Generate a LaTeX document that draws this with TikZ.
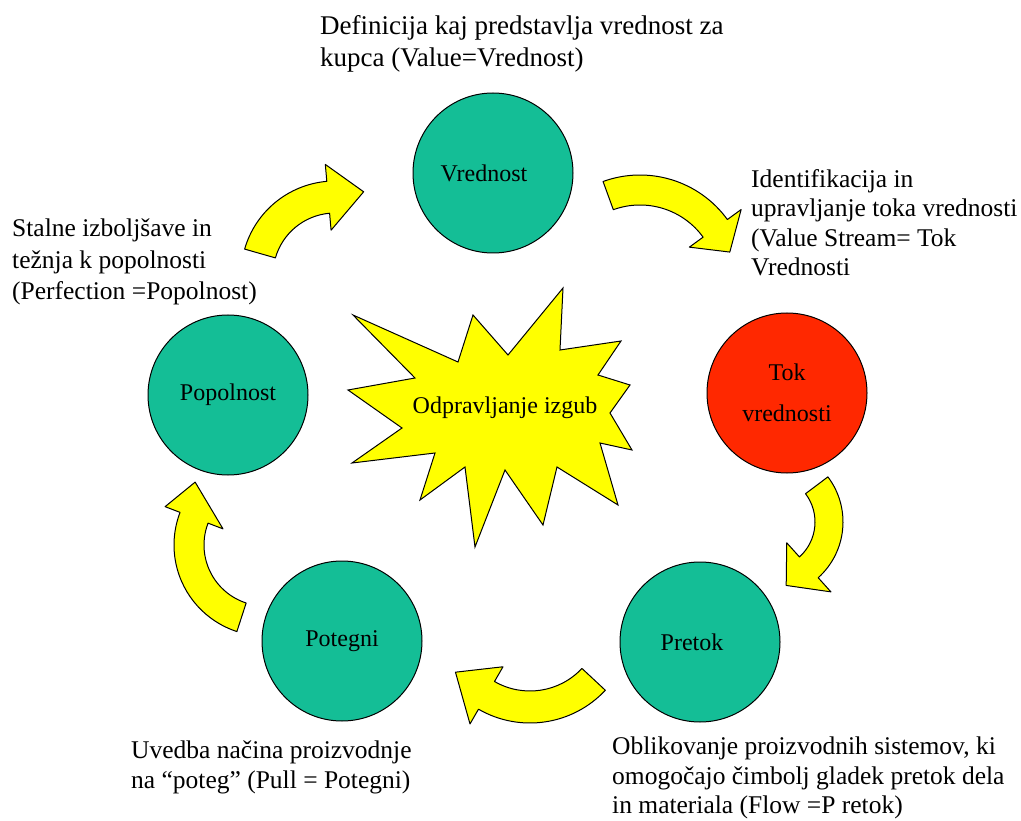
\documentclass[tikz,border=0pt]{standalone}
\usepackage{fontspec}
\setmainfont{Liberation Serif}
\definecolor{zelena}{RGB}{20,190,150}
\definecolor{rdeca}{RGB}{255,40,0}
\definecolor{rumena}{RGB}{255,255,0}

\begin{document}
\begin{tikzpicture}[x=1pt,y=-1pt]
    \tikzstyle{krog}=[draw,circle,line width=1pt,minimum size=160pt,inner sep=0pt,fill=zelena,font=\fontsize{24}{28}\selectfont,align=center];
    \tikzstyle{opis}=[anchor=north west,inner sep=0pt,align=left,font=\fontsize{25.5}{29.5}\selectfont];
    \tikzstyle{puscica}=[draw,fill=rumena,line width=1pt,line join=round];
    \useasboundingbox (0,0) rectangle (1021,821);

    % zvezda v sredini
    \filldraw[fill=rumena,line width=1pt,line join=miter] (353,315) -- (458,362) -- (473,315) -- (508,355)
    -- (563,288) -- (560,350) -- (621,341) -- (598,375) -- (630,385) -- (610,413)
    -- (632,450) -- (600,443) -- (618,505) -- (557,467) -- (543,525) -- (505,470)
    -- (475,547) -- (465,467) -- (420,500) -- (435,453) -- (352,463) -- (402,428)
    -- (348,390) -- (415,378) -- cycle;
    \node (0) [font=\fontsize{24}{28}\selectfont] at (505,408) {Odpravljanje izgub};

    \node (1) [krog] at (493,173) {Vrednost\hspace*{18pt}};
    \node (2) [krog,fill=rdeca] at (787,393) {Tok\\[13pt]vrednosti};
    \node (3) [krog] at (700,642) {Pretok\hspace*{16pt}};
    \node (4) [krog] at (342,641) {Potegni};
    \node (5) [krog] at (228,395) {Popolnost};

    \node (1a) [opis,font=\fontsize{27}{32}\selectfont] at (320,15) {Definicija kaj predstavlja vrednost za\\kupca (Value=Vrednost)};
    \node (2a) [opis] at (751,169) {Identifikacija in\\upravljanje toka vrednosti\\(Value Stream= Tok\\Vrednosti};
    \node (3a) [opis] at (612,737) {Oblikovanje proizvodnih sistemov, ki\\omogočajo čimbolj gladek pretok dela\\in materiala (Flow =P retok)};
    \node (4a) [opis] at (131,741) {Uvedba načina proizvodnje\\na “poteg” (Pull = Potegni)};
    \node (5a) [opis,font=\fontsize{25.5}{31.5}\selectfont] at (12,219) {Stalne izboljšave in\\težnja k popolnosti\\(Perfection =Popolnost)};

    % puscice med krogi
    \filldraw[puscica,shift={(335,275)}] (196:94) arc[start angle=196,end angle=265,radius=94]
    -- (265:111) -- (289:88) -- (265:45) -- (265:62) arc[start angle=265,end angle=196,radius=62] -- cycle;
    \filldraw[puscica,shift={(640,283)}] (250:108) arc[start angle=250,end angle=324,radius=108]
    -- (324:125) -- (341:95) -- (324:61) -- (324:78) arc[start angle=324,end angle=250,radius=78] -- cycle;
    \filldraw[puscica,shift={(768,522)}] (-37:75) arc[start angle=-37,end angle=48,radius=75]
    -- (48:94) -- (74:66) -- (48:28) -- (48:47) arc[start angle=48,end angle=-37,radius=47] -- cycle;
    \filldraw[puscica,shift={(530,620)}] (43:103) arc[start angle=43,end angle=120,radius=103]
    -- (120:120) -- (145:91) -- (120:54) -- (120:71) arc[start angle=120,end angle=43,radius=71] -- cycle;
    \filldraw[puscica,shift={(265,545)}] (108:91) arc[start angle=108,end angle=201,radius=91]
    -- (201:107) -- (222:94) -- (201:45) -- (201:61) arc[start angle=201,end angle=108,radius=61] -- cycle;
\end{tikzpicture}
\end{document}
